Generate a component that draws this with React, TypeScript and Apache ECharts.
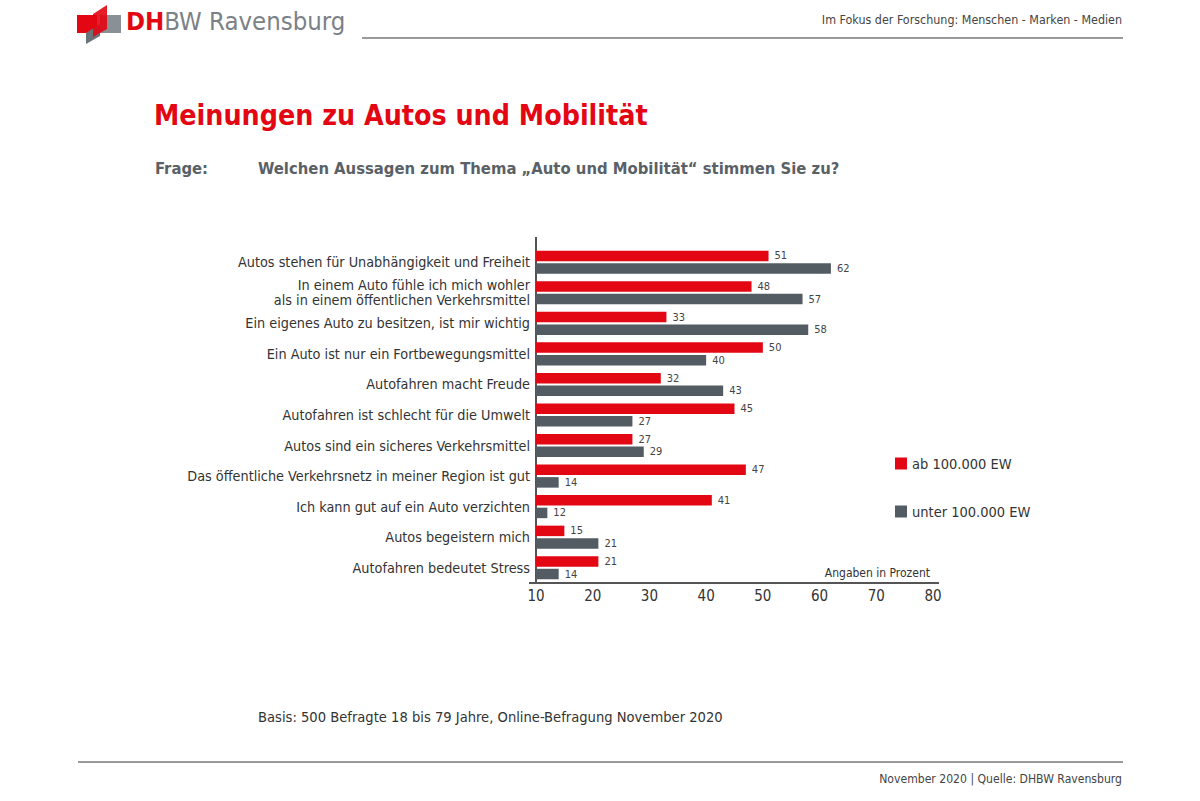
import React, { useEffect, useRef } from "react";
import * as echarts from "echarts";

const categories = [
  "Autos stehen für Unabhängigkeit und Freiheit",
  "In einem Auto fühle ich mich wohler\nals in einem öffentlichen Verkehrsmittel",
  "Ein eigenes Auto zu besitzen, ist mir wichtig",
  "Ein Auto ist nur ein Fortbewegungsmittel",
  "Autofahren macht Freude",
  "Autofahren ist schlecht für die Umwelt",
  "Autos sind ein sicheres Verkehrsmittel",
  "Das öffentliche Verkehrsnetz in meiner Region ist gut",
  "Ich kann gut auf ein Auto verzichten",
  "Autos begeistern mich",
  "Autofahren bedeutet Stress",
];
const seriesNames = ["ab 100.000 EW", "unter 100.000 EW"];
const bigCities = [51, 48, 33, 50, 32, 45, 27, 47, 41, 15, 21];
const smallTowns = [62, 57, 58, 40, 43, 27, 29, 14, 12, 21, 14];
const xTicks = [10, 20, 30, 40, 50, 60, 70, 80];

const RED = "#e30613";
const GRAY = "#535c63";
const FONT = "'DejaVu Sans Condensed', 'Open Sans', sans-serif";

export default function App() {
  const ref = useRef<HTMLDivElement>(null);
  useEffect(() => {
    document.body.style.margin = "0";
    const chart = echarts.init(ref.current!, null, { renderer: "svg" });
    const label = {
      show: true,
      position: "right",
      distance: 6,
      fontSize: 11,
      color: "#444",
      fontFamily: FONT,
    };
    chart.setOption({
      animation: false,
      backgroundColor: "#fff",
      textStyle: { fontFamily: FONT },
      grid: { left: 536, top: 247, width: 397, height: 336, containLabel: false },
      legend: {
        data: seriesNames,
        orient: "vertical",
        left: 890,
        top: 451,
        itemWidth: 12,
        itemHeight: 12,
        itemGap: 33,
        icon: "rect",
        textStyle: { fontSize: 14.5, color: "#333", fontFamily: FONT },
      },
      xAxis: {
        type: "value",
        min: xTicks[0],
        max: xTicks[xTicks.length - 1],
        interval: 10,
        axisLine: { show: false },
        axisTick: { show: false },
        splitLine: { show: false },
        axisLabel: { fontSize: 15, color: "#333", margin: 5, fontFamily: FONT },
      },
      yAxis: {
        type: "category",
        data: categories,
        inverse: true,
        axisLine: { show: false },
        axisTick: { show: false },
        axisLabel: {
          fontSize: 14.3,
          lineHeight: 15,
          color: "#333",
          margin: 6,
          align: "right",
          fontFamily: FONT,
        },
      },
      series: [
        {
          name: seriesNames[0],
          type: "bar",
          data: bigCities,
          barWidth: 10.5,
          barGap: "20%",
          clip: true,
          itemStyle: { color: RED },
          label,
        },
        {
          name: seriesNames[1],
          type: "bar",
          data: smallTowns,
          barWidth: 10.5,
          clip: true,
          itemStyle: { color: GRAY },
          label,
        },
      ],
      graphic: [
        // logo
        { type: "rect", shape: { x: 77, y: 15, width: 20, height: 18 }, style: { fill: RED } },
        { type: "rect", shape: { x: 100, y: 15, width: 21, height: 18 }, style: { fill: "#8a9196" } },
        { type: "polygon", shape: { points: [[86, 33], [100, 24], [100, 36], [86, 44]] }, style: { fill: "#6b7379" } },
        { type: "polygon", shape: { points: [[93, 14], [107, 5], [107, 29], [93, 37]] }, style: { fill: RED, opacity: 0.9 } },
        {
          type: "text",
          left: 126,
          top: 8,
          style: {
            text: "{a|DH}{b|BW Ravensburg}",
            rich: {
              a: { fontSize: 25.5, fontWeight: "bold", fill: RED, fontFamily: FONT },
              b: { fontSize: 25.5, fill: "#7b8186", fontFamily: FONT },
            },
          },
        },
        { type: "line", shape: { x1: 362, y1: 38, x2: 1123, y2: 38 }, style: { stroke: "#9a9a9a", lineWidth: 2 } },
        {
          type: "text",
          right: 78,
          top: 13,
          style: { text: "Im Fokus der Forschung: Menschen - Marken - Medien", fontSize: 12.4, fill: "#444", fontFamily: FONT },
        },
        // title
        {
          type: "text",
          left: 154,
          top: 101,
          style: { text: "Meinungen zu Autos und Mobilität", fontSize: 28.3, fontWeight: "bold", fill: RED, fontFamily: FONT },
        },
        {
          type: "text",
          left: 155,
          top: 160,
          style: { text: "Frage:", fontSize: 16.5, fontWeight: "bold", fill: "#5a6166", fontFamily: FONT },
        },
        {
          type: "text",
          left: 258,
          top: 160,
          style: {
            text: "Welchen Aussagen zum Thema „Auto und Mobilität“ stimmen Sie zu?",
            fontSize: 16.5,
            fontWeight: "bold",
            fill: "#5a6166",
            fontFamily: FONT,
          },
        },
        // axes lines
        { type: "line", shape: { x1: 536, y1: 237, x2: 536, y2: 583 }, style: { stroke: "#555", lineWidth: 2 } },
        { type: "line", shape: { x1: 529, y1: 583, x2: 939, y2: 583 }, style: { stroke: "#555", lineWidth: 2 } },
        {
          type: "text",
          right: 270,
          top: 567,
          style: { text: "Angaben in Prozent", fontSize: 12, fill: "#333", fontFamily: FONT },
        },
        // footer
        {
          type: "text",
          left: 258,
          top: 709,
          style: { text: "Basis: 500 Befragte 18 bis 79 Jahre, Online-Befragung November 2020", fontSize: 14.6, fill: "#333", fontFamily: FONT },
        },
        { type: "line", shape: { x1: 78, y1: 762, x2: 1123, y2: 762 }, style: { stroke: "#9a9a9a", lineWidth: 2 } },
        {
          type: "text",
          right: 78,
          top: 773,
          style: { text: "November 2020 | Quelle: DHBW Ravensburg", fontSize: 12.1, fill: "#444", fontFamily: FONT },
        },
      ],
    });
    return () => chart.dispose();
  }, []);
  return <div ref={ref} style={{ width: 1200, height: 801 }} />;
}
